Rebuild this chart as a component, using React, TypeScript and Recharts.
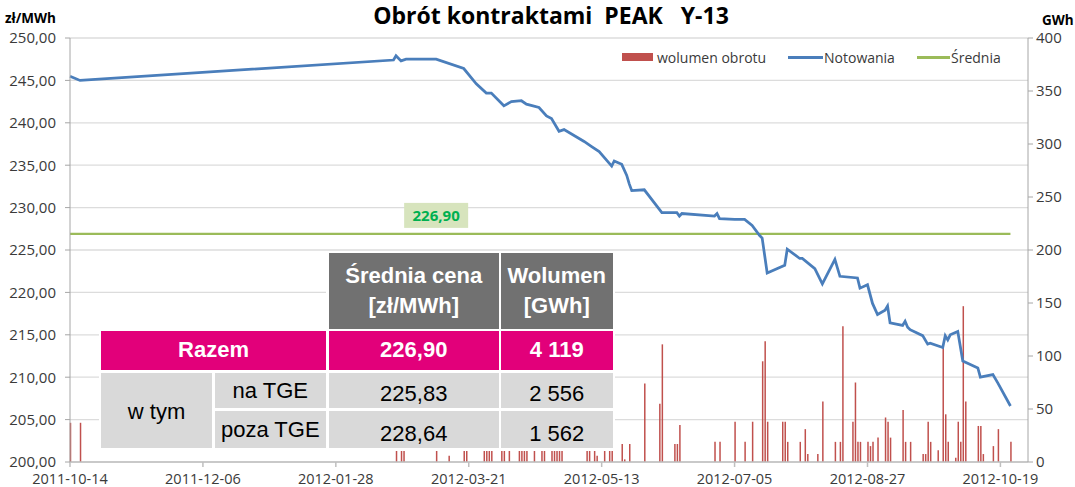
import React from 'react';
import { ComposedChart, Bar, Line, XAxis, YAxis, CartesianGrid, Legend, ReferenceDot } from 'recharts';

// ---------- data ----------
// x values are days counted from the first quotation date 2011-10-14
const START_DATE = '2011-10-14';
const xTickDays = [0, 53, 106, 159, 212, 265, 318, 371];
const xTickLabels = ['2011-10-14', '2011-12-06', '2012-01-28', '2012-03-21', '2012-05-13', '2012-07-05', '2012-08-27', '2012-10-19'];
const X_DOMAIN_END = 382;

const priceTicks = [200, 205, 210, 215, 220, 225, 230, 235, 240, 245, 250];
const volumeTicks = [0, 50, 100, 150, 200, 250, 300, 350, 400];

// Notowania (zł/MWh)
const priceDays = [
  0, 4, 129, 130, 132, 134, 146, 157, 162, 166, 168, 173, 176, 180, 182, 187, 190, 192, 195, 197,
  205, 208, 211, 216, 217, 220, 222, 223, 224, 229, 236, 242, 243, 244, 257, 258, 259, 265, 269, 272,
  275, 276, 278, 285, 286, 291, 292, 297, 300, 305, 307, 314, 315, 318, 320, 322, 325, 326, 327, 332,
  333, 334, 335, 340, 342, 343, 348, 349, 350, 351, 354, 356, 362, 363, 368, 370, 375,
];
const priceValues = [
  245.5, 245.0, 247.4, 247.9, 247.3, 247.5, 247.5, 246.4, 244.6, 243.5, 243.5, 242.0, 242.5, 242.6, 242.2, 241.8, 240.8, 240.5, 239.0, 239.2,
  237.8, 237.2, 236.6, 234.9, 235.5, 235.1, 233.8, 232.8, 232.0, 232.1, 229.4, 229.4, 229.0, 229.3, 229.0, 229.3, 228.7, 228.6, 228.6, 227.9,
  226.7, 226.4, 222.3, 223.2, 225.1, 224.0, 224.0, 222.8, 221.0, 223.9, 221.9, 221.7, 220.5, 220.9, 218.7, 217.4, 217.9, 218.4, 216.4, 216.1,
  216.6, 215.9, 215.6, 214.9, 213.9, 214.0, 213.5, 214.9, 214.4, 215.0, 215.4, 211.9, 211.1, 210.0, 210.3, 209.3, 206.6,
];

// wolumen obrotu (GWh)
const volumeDays = [
  0, 4,
  130, 132, 133, 146, 151, 157, 158, 165, 166, 167, 168, 172, 173, 175, 179, 180, 181, 182, 185, 188, 189,
  192, 193, 194, 195, 196, 206, 207, 209, 210, 213, 215, 216,
  220, 221, 223, 229, 235, 236, 241, 242, 243,
  257, 259, 265, 269, 272, 276, 277, 278, 284, 285, 286, 291, 293, 294, 298, 300, 305, 307, 308, 312, 313,
  314, 315, 318, 319, 320, 322, 325, 326, 327, 332, 333, 335, 340, 341, 342, 343, 346, 348, 349, 350, 353,
  354, 355, 356, 357, 362, 363, 364, 368, 370, 375,
];
const volumeValues = [
  37, 37,
  19, 19, 19, 19, 6, 19, 38, 19, 19, 38, 19, 19, 19, 19, 19, 38, 19, 19, 19, 19, 38,
  19, 19, 19, 38, 19, 19, 19, 19, 6, 19, 19, 19,
  17, 2.5, 17, 74, 55, 111, 17, 17, 35,
  19, 19, 38, 19, 38, 95, 114, 38, 38, 38, 19, 19, 31, 7.5, 7.5, 57, 19, 19, 128, 38, 75,
  19, 19, 19, 15, 19, 23, 42, 38, 23, 49, 19, 19, 7.5, 7.5, 38, 19, 11, 109, 45, 19, 4,
  38, 19, 147, 57, 34, 34, 7.5, 15, 31, 19,
];

const AVERAGE_PRICE = 226.9;
const AVERAGE_LABEL = '226,90';
const AVERAGE_LABEL_DAY = 146;

const tableHeaders = ['Średnia cena', '[zł/MWh]', 'Wolumen', '[GWh]'];
const totalRow = ['Razem', '226,90', '4 119'];
const subGroupLabel = 'w tym';
const subRows = [
  ['na TGE', '225,83', '2 556'],
  ['poza TGE', '228,64', '1 562'],
];

const legendLabels = ['wolumen obrotu', 'Notowania', 'Średnia'];

// ---------- styles ----------
const FONT = '"Open Sans", "DejaVu Sans", sans-serif';
const TABLE_FONT = '"Liberation Sans", Arial, sans-serif';
const BLUE = '#4A7EBB';
const RED = '#C0504D';
const GREEN = '#9BBB59';
const MAGENTA = '#E2007A';
const DARK_GRAY = '#717171';
const LIGHT_GRAY = '#D9D9D9';
const TEXT = '#3A3A3A';

type Row = { d: number; price?: number; vol?: number; avg: number };

function buildData(): Row[] {
  const map = new Map<number, Row>();
  priceDays.forEach((d, i) => {
    const r = map.get(d) || { d, avg: AVERAGE_PRICE };
    r.price = priceValues[i];
    map.set(d, r);
  });
  volumeDays.forEach((d, i) => {
    const r = map.get(d) || { d, avg: AVERAGE_PRICE };
    r.vol = volumeValues[i];
    map.set(d, r);
  });
  return Array.from(map.values()).sort((a, b) => a.d - b.d);
}

const fmtPrice = (v: number) => v.toFixed(2).replace('.', ',');
const fmtDay = (v: number) => {
  const i = xTickDays.indexOf(v);
  return i >= 0 ? xTickLabels[i] : '';
};

const AvgLabel = (props: any) => {
  const { cx, cy } = props;
  if (cx == null || cy == null) return null;
  return (
    <g>
      <rect x={cx - 32} y={cy - 31} width={64} height={25} fill="#D7E4BD" />
      <text x={cx} y={cy - 13} textAnchor="middle" fill="#00B050" fontWeight="bold" fontSize={15} fontFamily={FONT}>
        {AVERAGE_LABEL}
      </text>
    </g>
  );
};

const LegendContent = () => {
  const item = (i: number, width: number, marker: React.ReactNode) => (
    <div key={i} style={{ display: 'flex', alignItems: 'center', width, height: 20 }}>
      {marker}
      <span style={{ fontSize: 14, color: TEXT, fontFamily: FONT, whiteSpace: 'nowrap' }}>{legendLabels[i]}</span>
    </div>
  );
  return (
    <div style={{ display: 'flex', alignItems: 'center' }}>
      {item(0, 166, <div style={{ width: 31, height: 8, background: RED, marginRight: 4 }} />)}
      {item(1, 129, <div style={{ width: 35, height: 3, background: BLUE, marginRight: 1 }} />)}
      {item(2, 110, <div style={{ width: 33, height: 3, background: GREEN, marginRight: 1 }} />)}
    </div>
  );
};

const Cell = (p: { x1: number; y1: number; x2: number; y2: number; bg: string; color: string; bold?: boolean; children: React.ReactNode; padTop?: number; lh?: number }) => (
  <div
    style={{
      position: 'absolute', left: p.x1, top: p.y1, width: p.x2 - p.x1, height: p.y2 - p.y1,
      background: p.bg, color: p.color, fontWeight: p.bold ? 'bold' : 'normal',
      fontFamily: TABLE_FONT, fontSize: 22, lineHeight: (p.lh || 24) + 'px',
      display: 'flex', flexDirection: 'column', alignItems: 'center', justifyContent: 'center',
      paddingTop: p.padTop || 0, boxSizing: 'border-box', textAlign: 'center', whiteSpace: 'nowrap',
    }}
  >
    {p.children}
  </div>
);

export default function App() {
  const data = buildData();
  const xTickStyle = { fill: TEXT, fontSize: 14.5, fontFamily: FONT };
  const yTickStyle = { fill: TEXT, fontSize: 15, fontFamily: FONT };
  const c1 = 101, c2 = 212, c3 = 214.5, c4 = 326, c5 = 328.5, c6 = 499, c7 = 501, c8 = 612.5;
  const r0 = 253, r1 = 328.5, r2 = 330.7, r3 = 370, r4 = 372.7, r5 = 407.7, r6 = 410.7, r7 = 448.3;
  return (
    <div style={{ position: 'absolute', left: 0, top: 0, width: 1075, height: 487, background: '#fff', overflow: 'hidden', fontFamily: FONT }}>
      <ComposedChart width={1075} height={487} data={data} margin={{ top: 38, right: 0, bottom: 0, left: 0 }}>
        <CartesianGrid yAxisId="left" vertical={false} stroke="#DCDCDC" strokeWidth={1.3} />
        <XAxis
          dataKey="d" type="number" domain={[0, X_DOMAIN_END]} ticks={xTickDays} interval={0}
          tickFormatter={fmtDay} height={25} tick={xTickStyle} stroke="#BFBFBF" strokeWidth={1.5} tickSize={5} tickMargin={7}
        />
        <YAxis
          yAxisId="left" domain={[200, 250]} ticks={priceTicks} interval={0} width={70}
          tickFormatter={fmtPrice} tick={yTickStyle} stroke="#A6A6A6" tickSize={5} tickMargin={9}
        />
        <YAxis
          yAxisId="right" orientation="right" domain={[0, 400]} ticks={volumeTicks} interval={0} width={47}
          tick={yTickStyle} stroke="#A6A6A6" tickSize={5} tickMargin={3}
        />
        <Bar yAxisId="right" dataKey="vol" fill={RED} barSize={1.5} isAnimationActive={false} />
        <Line yAxisId="left" dataKey="avg" stroke={GREEN} strokeWidth={2.25} dot={false} isAnimationActive={false} />
        <Line yAxisId="left" dataKey="price" stroke={BLUE} strokeWidth={2.75} dot={false} connectNulls isAnimationActive={false} />
        <ReferenceDot yAxisId="left" x={AVERAGE_LABEL_DAY} y={AVERAGE_PRICE} shape={AvgLabel} />
        <Legend
          layout="horizontal" verticalAlign="middle" align="center" content={LegendContent}
          wrapperStyle={{ position: 'absolute', top: 47, left: 622, width: 420, height: 20 }}
        />
      </ComposedChart>

      {/* title and axis units */}
      <div style={{ position: 'absolute', left: 0, width: 1102, top: -1, textAlign: 'center', fontWeight: 'bold', fontSize: 23, fontFamily: FONT, whiteSpace: 'pre', color: '#000' }}>
        {'Obrót kontraktami  PEAK   Y-13'}
      </div>
      <div style={{ position: 'absolute', left: 5, top: 9, fontWeight: 'bold', fontSize: 13.5, fontFamily: FONT, color: '#000' }}>zł/MWh</div>
      <div style={{ position: 'absolute', left: 1042, top: 11, fontWeight: 'bold', fontSize: 13.5, fontFamily: FONT, color: '#000' }}>GWh</div>

      {/* summary table */}
      <div style={{ position: 'absolute', left: c5 - 2.5, top: r0 - 2, width: c8 - c5 + 5, height: r2 - r0 + 2, background: '#fff' }} />
      <div style={{ position: 'absolute', left: c1 - 2.5, top: r2 - 2.5, width: c8 - c1 + 5, height: r7 - r2 + 5, background: '#fff' }} />
      <Cell x1={c5} y1={r0} x2={c6} y2={r1} bg={DARK_GRAY} color="#fff" bold lh={30}>
        <div>{tableHeaders[0]}</div><div>{tableHeaders[1]}</div>
      </Cell>
      <Cell x1={c7} y1={r0} x2={c8} y2={r1} bg={DARK_GRAY} color="#fff" bold lh={30}>
        <div>{tableHeaders[2]}</div><div>{tableHeaders[3]}</div>
      </Cell>
      <Cell x1={c1} y1={r2} x2={c4} y2={r3} bg={MAGENTA} color="#fff" bold>{totalRow[0]}</Cell>
      <Cell x1={c5} y1={r2} x2={c6} y2={r3} bg={MAGENTA} color="#fff" bold>{totalRow[1]}</Cell>
      <Cell x1={c7} y1={r2} x2={c8} y2={r3} bg={MAGENTA} color="#fff" bold>{totalRow[2]}</Cell>
      <Cell x1={c1} y1={r4} x2={c2} y2={r7} bg={LIGHT_GRAY} color="#000" padTop={4}>{subGroupLabel}</Cell>
      <Cell x1={c3} y1={r4} x2={c4} y2={r5} bg={LIGHT_GRAY} color="#000" padTop={2}>{subRows[0][0]}</Cell>
      <Cell x1={c5} y1={r4} x2={c6} y2={r5} bg={LIGHT_GRAY} color="#000" padTop={8}>{subRows[0][1]}</Cell>
      <Cell x1={c7} y1={r4} x2={c8} y2={r5} bg={LIGHT_GRAY} color="#000" padTop={8}>{subRows[0][2]}</Cell>
      <Cell x1={c3} y1={r6} x2={c4} y2={r7} bg={LIGHT_GRAY} color="#000" padTop={2}>{subRows[1][0]}</Cell>
      <Cell x1={c5} y1={r6} x2={c6} y2={r7} bg={LIGHT_GRAY} color="#000" padTop={10}>{subRows[1][1]}</Cell>
      <Cell x1={c7} y1={r6} x2={c8} y2={r7} bg={LIGHT_GRAY} color="#000" padTop={10}>{subRows[1][2]}</Cell>
    </div>
  );
}
